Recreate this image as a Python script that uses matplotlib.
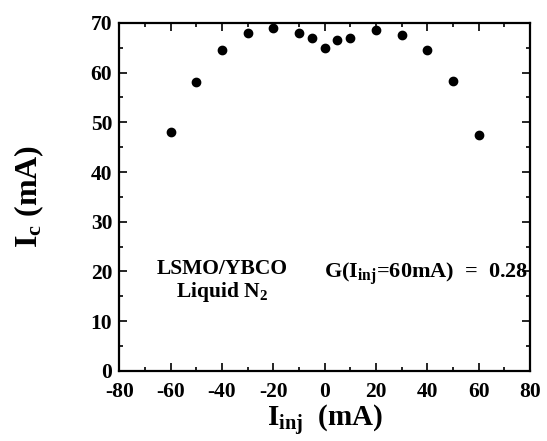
import matplotlib
matplotlib.use("Agg")
import matplotlib.pyplot as plt
from matplotlib.ticker import MultipleLocator

# data
i_inj = [-60, -50, -40, -30, -20, -10, -5, 0, 5, 10, 20, 30, 40, 50, 60]
i_c = [48.0, 58.2, 64.5, 68.0, 69.0, 68.0, 67.0, 65.0, 66.5, 67.0, 68.5, 67.5, 64.5, 58.3, 47.5]
x_ticks = [-80, -60, -40, -20, 0, 20, 40, 60, 80]
y_ticks = [0, 10, 20, 30, 40, 50, 60, 70]

plt.rcParams['font.family'] = ['Liberation Serif', 'DejaVu Serif']
plt.rcParams['font.weight'] = 'bold'
plt.rcParams['axes.labelweight'] = 'bold'
plt.rcParams['axes.unicode_minus'] = False
plt.rcParams['mathtext.fontset'] = 'custom'
plt.rcParams['mathtext.rm'] = 'Liberation Serif:bold'
plt.rcParams['mathtext.it'] = 'Liberation Serif:bold'
plt.rcParams['mathtext.bf'] = 'Liberation Serif:bold'

fig = plt.figure(figsize=(5.47, 4.41), dpi=100)
ax = fig.add_axes([0.218, 0.159, 0.751, 0.789])

ax.plot(i_inj, i_c, 'o', color='black', markersize=6)

ax.set_xlim(-80, 80)
ax.set_ylim(0, 70)
ax.set_xticks(x_ticks)
ax.set_yticks(y_ticks)
ax.xaxis.set_minor_locator(MultipleLocator(10))
ax.yaxis.set_minor_locator(MultipleLocator(5))
ax.tick_params(which='both', direction='in', top=True, right=True, width=1.2)
ax.tick_params(which='major', length=6, labelsize=15.5)
ax.tick_params(axis='x', which='major', pad=8)
ax.tick_params(axis='y', which='major', pad=5)
ax.tick_params(which='minor', length=3)
for s in ax.spines.values():
    s.set_linewidth(1.6)

ax.set_xlabel(r'I$_{\mathrm{inj}}$  (mA)', fontsize=21, labelpad=1)
ax.set_ylabel(r'I$_{\mathrm{c}}$ (mA)', fontsize=23, labelpad=32)

ax.text(-40, 18, 'LSMO/YBCO\nLiquid N$_2$', ha='center', va='center',
        fontsize=15.5, linespacing=1.1)
ax.text(79.5, 19.5, r'G(I$_{\mathrm{inj}}$=60mA)  =  0.28', ha='right', va='center',
        fontsize=16)

fig.savefig('out.png', dpi=100)
